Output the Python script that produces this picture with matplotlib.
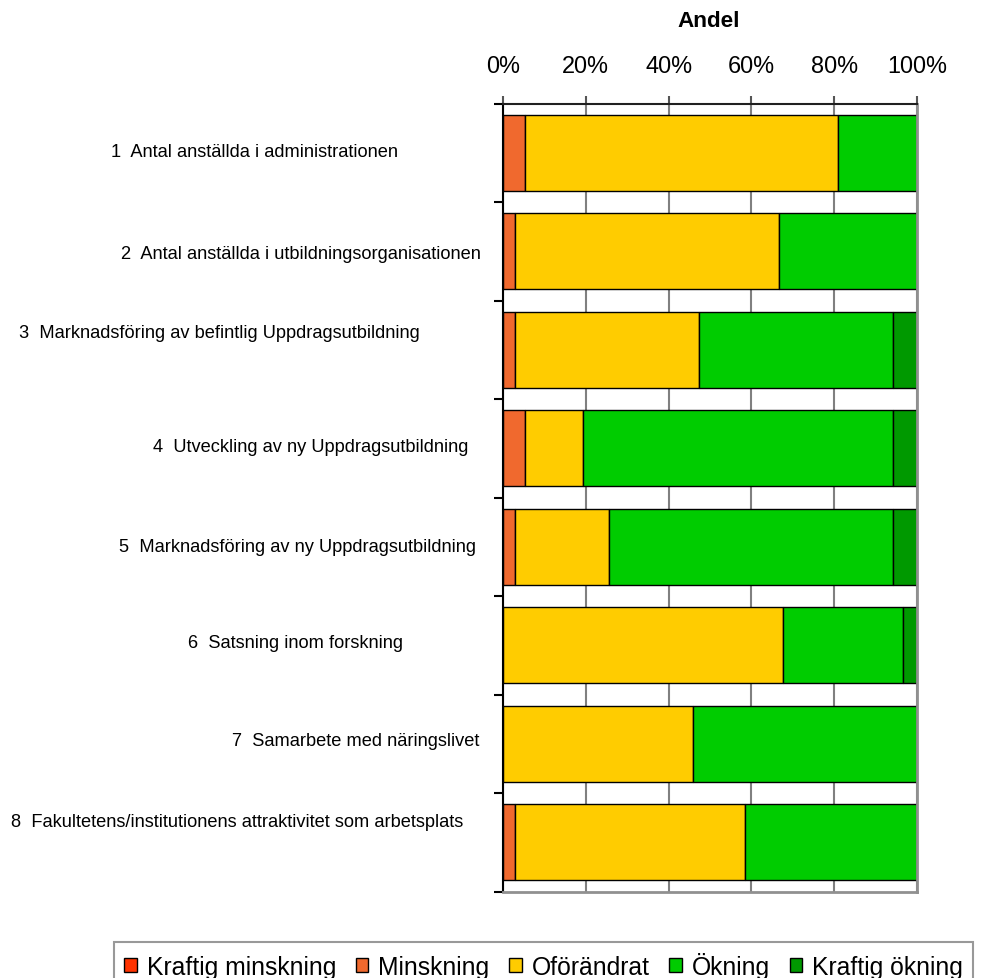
import numpy as np
import matplotlib
matplotlib.use('Agg')
import matplotlib.pyplot as plt
from matplotlib import transforms

plt.rcParams['font.family'] = ['Liberation Sans', 'DejaVu Sans']

# data (andel i procent)
categories = [
    '1  Antal anställda i administrationen',
    '2  Antal anställda i utbildningsorganisationen',
    '3  Marknadsföring av befintlig Uppdragsutbildning',
    '4  Utveckling av ny Uppdragsutbildning',
    '5  Marknadsföring av ny Uppdragsutbildning',
    '6  Satsning inom forskning',
    '7  Samarbete med näringslivet',
    '8  Fakultetens/institutionens attraktivitet som arbetsplats',
]
kraftig_minskning = [0, 0, 0, 0, 0, 0, 0, 0]
minskning = [5.4, 2.9, 2.9, 5.4, 2.9, 0, 0, 2.9]
oforandrat = [75.6, 63.7, 44.5, 14.0, 22.7, 67.6, 45.8, 55.5]
okning = [19.0, 33.4, 46.7, 74.7, 68.5, 29.0, 54.2, 41.6]
kraftig_okning = [0, 0, 5.9, 5.9, 5.9, 3.4, 0, 0]
series_names = ['Kraftig minskning', 'Minskning', 'Oförändrat', 'Ökning', 'Kraftig ökning']
x_ticks = [0, 20, 40, 60, 80, 100]

colors = ['#FF3300', '#F0692E', '#FFCC00', '#00CC00', '#009900']

# layout (pixels in the 981x979 picture)
W, H = 981, 979
label_cx = [254.5, 301, 219, 311, 297.5, 295, 356, 237.5]
label_dy = [1, -2, 17, 2, 0, 3, 3, 21]
slot_px = 98.5


def pt(px):
    return px * 72 / 100


fig = plt.figure(figsize=(W / 100, H / 100), dpi=100)
ax = fig.add_axes([503 / W, 1 - 892.5 / H, 414 / W, 788 / H])

y = np.arange(len(categories))
left = np.zeros(len(categories))
handles = []
for vals, name, c in zip([kraftig_minskning, minskning, oforandrat, okning, kraftig_okning],
                         series_names, colors):
    b = ax.barh(y, vals, left=left, height=0.77, color=c, edgecolor='black',
                linewidth=1.0, label=name)
    handles.append(b)
    left = left + np.array(vals)

ax.set_xlim(0, 100)
ax.set_ylim(len(categories) - 0.5, -0.5)

# x-axel överst
ax.xaxis.tick_top()
ax.set_xticks(x_ticks)
ax.set_xticklabels([f'{v}%' for v in x_ticks])
ax.tick_params(axis='x', length=pt(8), width=1.5, color='#555555', pad=13,
               labelsize=pt(23.5))
ax.xaxis.grid(True, color='#808080', linewidth=1.5)
ax.set_axisbelow(True)

ax.set_yticks(np.arange(-0.5, len(categories), 1))
ax.set_yticklabels([])
ax.tick_params(axis='y', length=pt(9), width=1.5, color='black')

ax.spines['top'].set_color('#202020')
ax.spines['top'].set_linewidth(1.5)
ax.spines['left'].set_color('black')
ax.spines['left'].set_linewidth(1.5)
for s in ['right', 'bottom']:
    ax.spines[s].set_color('#909090')
    ax.spines[s].set_linewidth(2)

# kategorietiketter
trans = transforms.blended_transform_factory(fig.transFigure, ax.transData)
for i, lab in enumerate(categories):
    ax.text(label_cx[i] / W, i - label_dy[i] / slot_px, lab, transform=trans,
            ha='center', va='center', fontsize=pt(18.3),
            family=['Liberation Sans Narrow', 'Liberation Sans', 'DejaVu Sans'])

fig.text(708.5 / W, 1 - 21.5 / H, 'Andel', ha='center', va='center',
         weight='bold', fontsize=pt(22.5))

leg = fig.legend(handles=handles, labels=series_names, loc='upper left',
                 bbox_to_anchor=(114 / W, 1 - 942.7 / H), ncol=5, frameon=True,
                 fancybox=False, edgecolor='#808080', fontsize=pt(24.8),
                 handlelength=0.5, handleheight=0.5, handletextpad=0.4,
                 columnspacing=0.8, borderpad=0.42, borderaxespad=0)
leg.get_frame().set_linewidth(1.5)

fig.savefig('out.png', dpi=100)
